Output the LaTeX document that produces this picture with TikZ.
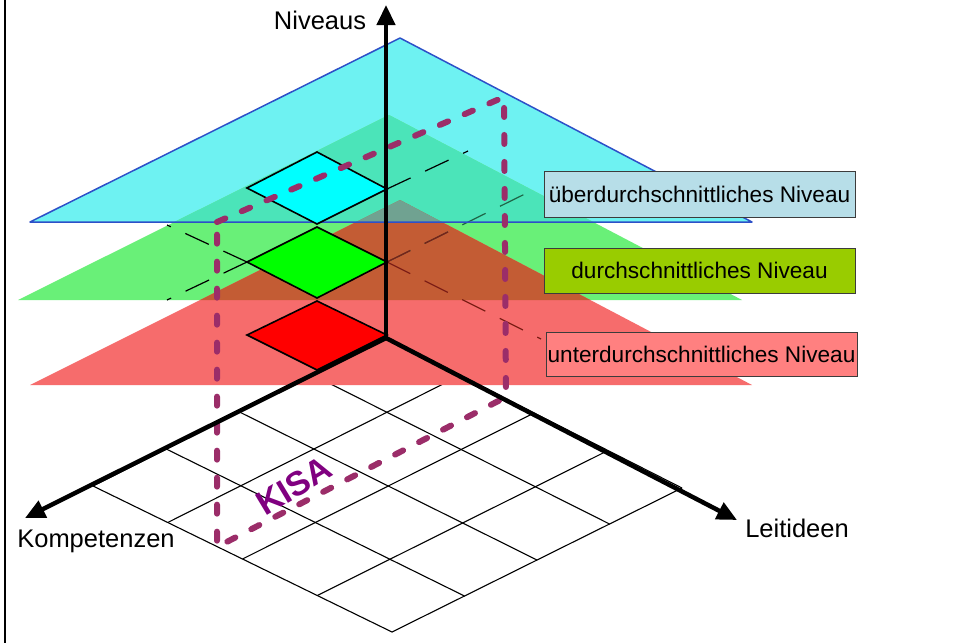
\documentclass[tikz,border=0pt]{standalone}
\usepackage{fontspec}
\setmainfont{Liberation Sans}
\usetikzlibrary{arrows.meta,calc}

\definecolor{cyanA}{RGB}{110,242,242}
\definecolor{tealBG}{RGB}{75,228,185}
\definecolor{greenA}{RGB}{105,240,120}
\definecolor{brownGR}{RGB}{195,92,52}
\definecolor{redA}{RGB}{246,108,108}
\definecolor{grayBGR}{RGB}{112,162,145}
\definecolor{blueLine}{RGB}{45,80,200}
\definecolor{kisaCol}{RGB}{155,45,105}
\definecolor{kisaText}{RGB}{128,0,128}
\definecolor{boxBlue}{RGB}{183,222,232}
\definecolor{boxGreen}{RGB}{153,204,0}
\definecolor{boxRed}{RGB}{255,128,128}
\definecolor{boxEdge}{RGB}{60,60,60}
\definecolor{dashDarkGreen}{RGB}{30,100,70}
\definecolor{dashDarkRed}{RGB}{125,30,22}
\definecolor{dmCyan}{RGB}{0,255,255}
\definecolor{dmGreen}{RGB}{0,255,0}
\definecolor{dmRed}{RGB}{255,0,0}

\newcommand\triBlue{(400,38) -- (752,222) -- (30,222) -- cycle}
\newcommand\triGreen{(389,115) -- (742,300) -- (18,300) -- cycle}
\newcommand\triRed{(400,200) -- (752,385) -- (30,385) -- cycle}

\begin{document}
\begin{tikzpicture}[x=1pt,y=-1pt,
  gridline/.style={black, line width=1.1pt},
  lvldash/.style={line width=1.2pt, dash pattern=on 26pt off 16pt},
  diamondbox/.style={draw=black, line width=1.6pt, line join=miter},
  axisline/.style={black, line width=4.5pt, -{Triangle[length=20pt,width=18pt]}},
  axislabel/.style={font=\fontsize{25.5}{30}\selectfont, inner sep=0pt, anchor=base},
  lbox/.style={draw=boxEdge, line width=1pt, minimum width=311pt, inner sep=0pt,
    text height=16pt, text depth=0pt, font=\fontsize{22.6}{27}\selectfont},
  kisaline/.style={kisaCol, line width=6pt, dash pattern=on 9pt off 18pt, line cap=round, line join=round}
]
\useasboundingbox (0,0) rectangle (953,643);
\fill[white] (0,0) rectangle (953,643);

% floor grid
\coordinate (O) at (386,338);
\coordinate (GL) at (93,486);
\coordinate (GR) at (682,488);
\coordinate (GB) at (392,632);
\foreach \i in {0,...,4} {
  \draw[gridline] ($(O)!{\i/4}!(GL)$) -- ($(GR)!{\i/4}!(GB)$);
  \draw[gridline] ($(O)!{\i/4}!(GR)$) -- ($(GL)!{\i/4}!(GB)$);
}

% level planes
\fill[cyanA] \triBlue;
\fill[greenA] \triGreen;
\fill[redA] \triRed;
\begin{scope}\clip \triBlue; \fill[tealBG] \triGreen; \end{scope}
\begin{scope}\clip \triGreen; \fill[brownGR] \triRed; \end{scope}
\begin{scope}\clip \triBlue; \fill[grayBGR] \triRed; \end{scope}

% diamond corners
\coordinate (cL) at (247,188); \coordinate (cT) at (317,152); \coordinate (cR) at (387,189); \coordinate (cB) at (317,224);
\coordinate (gL) at (247,262); \coordinate (gT) at (317,227); \coordinate (gR) at (387,262); \coordinate (gB) at (317,298);
\coordinate (rL) at (247,335); \coordinate (rT) at (317,301); \coordinate (rR) at (387,335); \coordinate (rB) at (317,370);

% dashed helper lines on the levels
\coordinate (d1) at (468,151);
\coordinate (d2) at (167,225);
\coordinate (d3) at (167,300);
\coordinate (d4) at (533,190);
\coordinate (d5) at (541,339);
\draw[lvldash, black] (cR) -- (d1);
\draw[lvldash, black] (gL) -- (d2);
\draw[lvldash, black] (gL) -- (d3);
\draw[lvldash, dashDarkGreen] (gR) -- (d4);
\begin{scope}\clip \triRed; \draw[lvldash, dashDarkRed] (gR) -- (d4); \end{scope}
\draw[lvldash, dashDarkRed] (gR) -- (d5);

% blue outline of top plane
\draw[blueLine, line width=1.5pt, line join=round] \triBlue;

% diamonds
\draw[diamondbox, fill=dmCyan] (cL) -- (cT) -- (cR) -- (cB) -- cycle;
\draw[diamondbox, fill=dmGreen] (gL) -- (gT) -- (gR) -- (gB) -- cycle;
\draw[diamondbox, fill=dmRed] (rL) -- (rT) -- (rR) -- (rB) -- cycle;

% KISA frame
\coordinate (kTL) at (217,222);
\coordinate (kTR) at (504,97);
\coordinate (kBR) at (506,397);
\coordinate (kBL) at (217,547);
\draw[kisaline] (kTL) -- (kTR) -- (kBR) -- (kBL) -- cycle;
\node[rotate=31, text=kisaText, font=\bfseries\fontsize{34}{34}\selectfont, inner sep=0pt] (kisa) at (294,486) {KISA};

% axes
\coordinate (aUp) at (386,5);
\coordinate (aLeft) at (25,518);
\coordinate (aRight) at (737,520);
\draw[axisline] (O) -- (aUp);
\draw[axisline] (O) -- (aLeft);
\draw[axisline] (O) -- (aRight);
\node[axislabel] (niv) at (320,29) {Niveaus};
\node[axislabel] (komp) at (96,547) {Kompetenzen};
\node[axislabel] (leit) at (797,537) {Leitideen};

% legend boxes
\node[lbox, fill=boxBlue, minimum height=46pt] (ueber) at (699.5,194) {überdurchschnittliches Niveau};
\node[lbox, fill=boxGreen, minimum height=45pt] (durch) at (699.5,270.5) {durchschnittliches Niveau};
\node[lbox, fill=boxRed, minimum height=44pt] (unter) at (701.5,354) {unterdurchschnittliches Niveau};

% left frame line
\draw[black, line width=2.5pt] (5,0) -- (5,643);
\end{tikzpicture}
\end{document}
